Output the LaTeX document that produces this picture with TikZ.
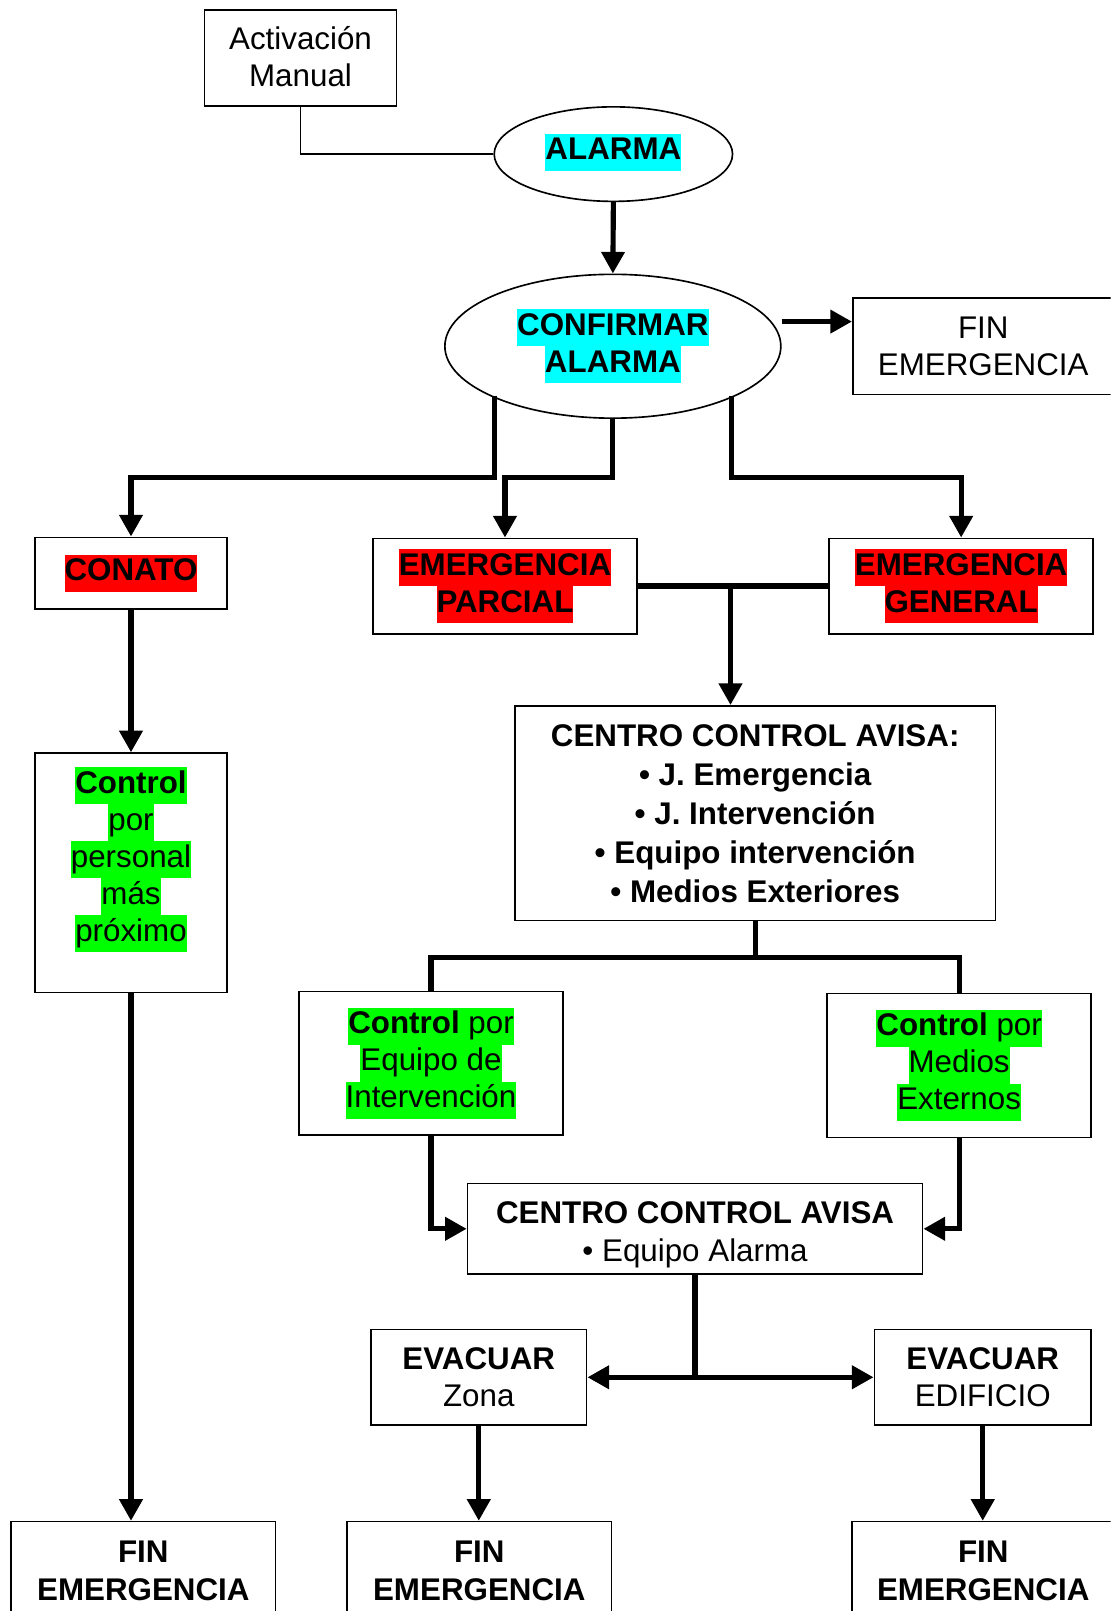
\documentclass[tikz,border=0pt]{standalone}
\usepackage{fontspec}
\setmainfont{Liberation Sans}
\usetikzlibrary{arrows.meta,shapes.geometric}
\definecolor{hcyan}{HTML}{00FFFF}
\definecolor{hred}{HTML}{FF0000}
\definecolor{hgreen}{HTML}{00FF00}
\newcommand\hlbox[2]{{\setlength{\fboxsep}{0pt}\colorbox{#1}{\strut#2}}}
\newcommand\tallstrut[1]{\rule{0pt}{#1}}
\newcommand\fsA{\fontsize{30.5}{36}\selectfont\lineskip=0pt\lineskiplimit=0pt}
\newcommand\fsB{\fontsize{30.5}{38}\selectfont\lineskip=0pt\lineskiplimit=0pt}
\newcommand\fsC{\fontsize{30.5}{37}\selectfont\lineskip=0pt\lineskiplimit=0pt}
\tikzset{
  box/.style={draw, line width=1.6pt, inner sep=0pt, align=center, font=\fsA},
  oval/.style={ellipse, draw, line width=1.6pt, inner sep=0pt, align=center, font=\fsA},
  txt/.style={inner sep=0pt, align=center, font=\fsA},
  thinline/.style={line width=1.6pt},
  thk/.style={line width=5pt},
  arr/.style={line width=5pt, -{Triangle[length=21pt,width=22pt]}},
  dblarr/.style={line width=5pt, {Triangle[length=21pt,width=22pt]}-{Triangle[length=21pt,width=22pt]}},
  bar/.style={line width=6.5pt}
}
\begin{document}
\begin{tikzpicture}[x=1pt,y=-1pt]
\useasboundingbox (0,0) rectangle (1081,1568);
\clip (0,0) rectangle (1081,1568);

\node[box, minimum width=187pt, minimum height=93pt] (act) at (292.5,56.5) {\tallstrut{31pt}\strut Activación\\\strut Manual};
\node[oval, minimum width=232pt, minimum height=92pt] (alarma) at (597,150) {\hlbox{hcyan}{\bfseries ALARMA}\rule[-14pt]{0pt}{1pt}};
\node[oval, minimum width=327pt, minimum height=140pt] (conf) at (596.5,337) {\hlbox{hcyan}{\bfseries CONFIRMAR}\\\hlbox{hcyan}{\bfseries ALARMA}};
\node[box, minimum width=254pt, minimum height=94pt] (fin1) at (957,337) {\tallstrut{31pt}\strut FIN\\\strut EMERGENCIA};

\node[box, minimum width=187pt, minimum height=70pt] (conato) at (127.5,558) {\hlbox{hred}{\bfseries CONATO}};
\node[box, minimum width=257pt, minimum height=93pt] (parc) at (491.5,570.5) {\hlbox{hred}{\bfseries EMERGENCIA}\\\hlbox{hred}{\bfseries PARCIAL}};
\node[box, minimum width=257pt, minimum height=93pt] (gen) at (935.5,570.5) {\hlbox{hred}{\bfseries EMERGENCIA}\\\hlbox{hred}{\bfseries GENERAL}};

\node[box, minimum width=187pt, minimum height=233pt] (ctrlp) at (127.5,849.5) {};
\node[txt] (ctrlpt) at (127.5,837) {\hlbox{hgreen}{\bfseries Control}\\\hlbox{hgreen}{por}\\\hlbox{hgreen}{personal}\\\hlbox{hgreen}{más}\\\hlbox{hgreen}{próximo}};

\node[box, font=\fsB\bfseries, minimum width=468pt, minimum height=209pt] (centro) at (735,791.5) {\tallstrut{33pt}\strut CENTRO CONTROL AVISA:\\\strut • J. Emergencia\\\strut • J. Intervención\\\strut • Equipo intervención\\\strut • Medios Exteriores};

\node[box, minimum width=257pt, minimum height=140pt] (eq) at (419.5,1035) {\hlbox{hgreen}{\textbf{Control} por}\\\hlbox{hgreen}{Equipo de}\\\hlbox{hgreen}{Intervención}};
\node[box, minimum width=257pt, minimum height=140pt] (med) at (933.5,1037) {\hlbox{hgreen}{\textbf{Control} por}\\\hlbox{hgreen}{Medios}\\\hlbox{hgreen}{Externos}};

\node[box, font=\fsC, minimum width=443pt, minimum height=88pt] (c2) at (676.5,1196) {\tallstrut{38pt}\strut\textbf{CENTRO CONTROL AVISA}\\\strut • Equipo Alarma};

\node[box, minimum width=210pt, minimum height=93pt] (evz) at (466,1340.5) {\tallstrut{31pt}\strut\textbf{EVACUAR}\\\strut Zona};
\node[box, minimum width=211pt, minimum height=93pt] (eve) at (956.5,1340.5) {\tallstrut{31pt}\strut\textbf{EVACUAR}\\\strut EDIFICIO};

\node[box, font=\fsC\bfseries, minimum width=257pt, minimum height=102pt] (finl) at (139.5,1532) {\strut FIN\\\strut EMERGENCIA};
\node[box, font=\fsC\bfseries, minimum width=257pt, minimum height=102pt] (finm) at (466.5,1532) {\strut FIN\\\strut EMERGENCIA};
\node[box, font=\fsC\bfseries, minimum width=256pt, minimum height=102pt] (finr) at (957,1532) {\strut FIN\\\strut EMERGENCIA};

\coordinate (yb) at (0,465);
\coordinate (yc) at (0,932);
\coordinate (bj) at (711,570.5);
\coordinate (cl) at ([xshift=-115.5pt,yshift=-48pt]conf.center);
\coordinate (cr) at ([xshift=115.5pt,yshift=-48pt]conf.center);

% connectors
\draw[thinline] (act.south) |- (alarma.west);
\draw[arr] (alarma.south) -- (conf.north);
\draw[arr] ([yshift=24pt]conf.east) -- ([yshift=24pt]fin1.west);

\draw[arr] (cl) -- (cl |- yb) -| (conato.north);
\draw[arr] (conf.south) -- (conf.south |- yb) -| (parc.north);
\draw[arr] (cr) -- (cr |- yb) -| (gen.north);

\draw[bar] (parc.east) -- (gen.west);
\draw[arr] (bj) -- (bj |- centro.north);

\draw[arr] (conato.south) -- (ctrlp.north);
\draw[arr] (ctrlp.south) -- (ctrlp.south |- finl.north);

\draw[thk] (centro.south) -- (centro.south |- yc);
\draw[thk] (eq.north) -- (eq.north |- yc) -- (med.north |- yc) -- (med.north);

\draw[arr] (eq.south) |- (c2.west);
\draw[arr] (med.south) |- (c2.east);

\draw[thk] (c2.south) -- (c2.south |- evz.east);
\draw[dblarr] (evz.east) -- (eve.west);

\draw[arr] (evz.south) -- (evz.south |- finm.north);
\draw[arr] (eve.south) -- (eve.south |- finr.north);
\end{tikzpicture}
\end{document}
